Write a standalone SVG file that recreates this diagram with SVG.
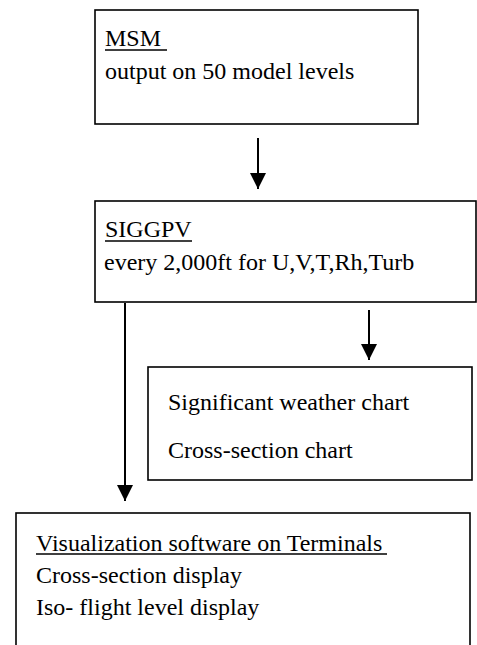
<svg xmlns="http://www.w3.org/2000/svg" width="477" height="645" viewBox="0 0 477 645">
<style>
.box{fill:#fff;stroke:#000;stroke-width:1.6}
.t{font-family:"Liberation Serif","Times New Roman",serif;font-size:24px;fill:#000}
.ul{stroke:#000;stroke-width:1.6}
.c{stroke:#000;stroke-width:2;fill:none}
</style>
<defs>
<marker id="ah" markerWidth="16" markerHeight="16" refX="16" refY="8" orient="auto" markerUnits="userSpaceOnUse">
<path d="M0,0 L16,8 L0,16 Z" fill="#000"/>
</marker>
</defs>
<rect width="477" height="645" fill="#fff"/>
<g id="msm">
<rect class="box" x="95" y="10" width="323" height="114"/>
<text class="t" x="105" y="46">MSM</text>
<line class="ul" x1="105" y1="50" x2="167" y2="50"/>
<text class="t" x="105" y="79">output on 50 model levels</text>
</g>
<g id="siggpv">
<rect class="box" x="95" y="201" width="381" height="101"/>
<text class="t" x="105" y="237">SIGGPV</text>
<line class="ul" x1="105" y1="241" x2="192" y2="241"/>
<text class="t" x="104" y="270">every 2,000ft for U,V,T,Rh,Turb</text>
</g>
<g id="charts">
<rect class="box" x="148" y="367" width="324" height="113"/>
<text class="t" x="168" y="410">Significant weather chart</text>
<text class="t" x="168" y="458">Cross-section chart</text>
</g>
<g id="visualization">
<rect class="box" x="16" y="513" width="454" height="160"/>
<text class="t" x="36" y="551">Visualization software on Terminals</text>
<line class="ul" x1="36" y1="554" x2="387" y2="554"/>
<text class="t" x="36" y="583">Cross-section display</text>
<text class="t" x="36" y="615">Iso- flight level display</text>
</g>
<g id="connectors">
<line class="c" x1="258" y1="138" x2="258" y2="189" marker-end="url(#ah)"/>
<line class="c" x1="369" y1="310" x2="369" y2="360" marker-end="url(#ah)"/>
<line class="c" x1="125" y1="303" x2="125" y2="501" marker-end="url(#ah)"/>
</g>
</svg>
